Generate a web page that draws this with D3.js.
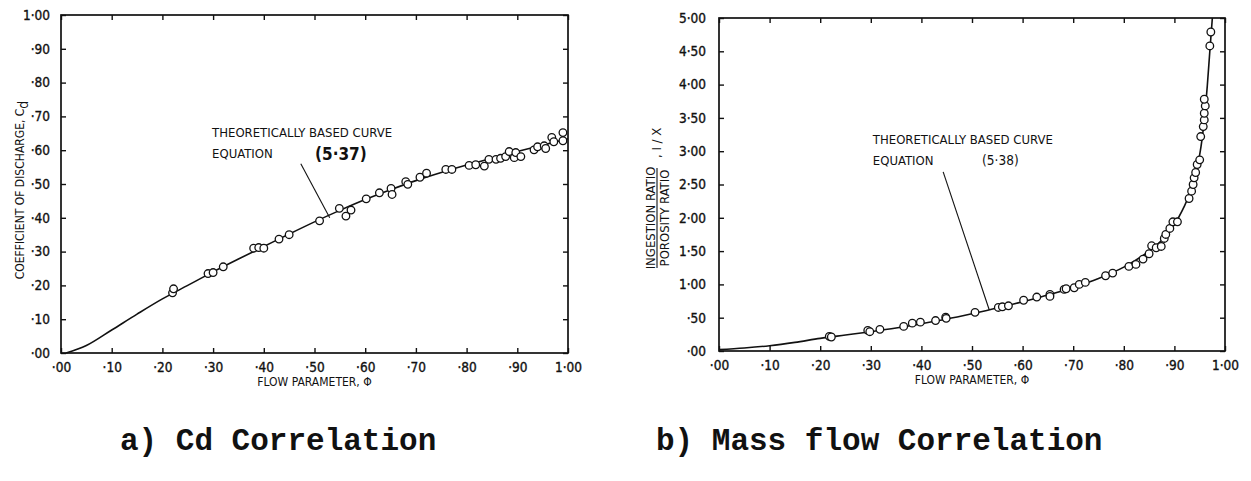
<!DOCTYPE html>
<html>
<head>
<meta charset="utf-8">
<script src="https://cdn.jsdelivr.net/npm/d3@7"></script>
<style>
  body { margin: 0; background: #fff; }
  svg text { font-family: "DejaVu Sans Condensed", "DejaVu Sans", sans-serif; fill: #111; }
  .caption { font-family: "Liberation Mono", "DejaVu Sans Mono", monospace; }
</style>
</head>
<body>
<script>
// ---- values ----
const phiTicks = [0, .1, .2, .3, .4, .5, .6, .7, .8, .9, 1];
const cdTicks = [0, .1, .2, .3, .4, .5, .6, .7, .8, .9, 1];
const ratioTicks = [0, .5, 1, 1.5, 2, 2.5, 3, 3.5, 4, 4.5, 5];

// a) Cd correlation : theoretical curve (5.37)
const cdCurve = [
  [0.01, 0], [0.05, 0.022], [0.1, 0.068], [0.15, 0.115], [0.2, 0.16], [0.25, 0.2],
  [0.3, 0.24], [0.35, 0.278], [0.4, 0.315], [0.45, 0.352], [0.5, 0.388], [0.55, 0.422],
  [0.6, 0.454], [0.65, 0.483], [0.7, 0.51], [0.75, 0.534], [0.8, 0.556], [0.85, 0.576],
  [0.9, 0.596], [0.95, 0.615], [1.0, 0.634]
];
// a) measured points
const cdPoints = [
  [0.22, 0.178], [0.222, 0.19], [0.29, 0.235], [0.30, 0.238], [0.32, 0.255],
  [0.38, 0.31], [0.39, 0.312], [0.40, 0.31], [0.43, 0.337], [0.45, 0.35],
  [0.51, 0.391], [0.549, 0.428], [0.562, 0.405], [0.572, 0.423], [0.602, 0.456],
  [0.628, 0.474], [0.651, 0.487], [0.653, 0.469], [0.68, 0.507], [0.684, 0.499],
  [0.708, 0.52], [0.721, 0.532], [0.759, 0.543], [0.771, 0.543], [0.805, 0.555],
  [0.818, 0.557], [0.835, 0.553], [0.844, 0.573], [0.858, 0.573], [0.867, 0.576],
  [0.877, 0.581], [0.884, 0.596], [0.894, 0.578], [0.897, 0.593], [0.907, 0.581],
  [0.933, 0.601], [0.94, 0.61], [0.953, 0.613], [0.956, 0.605], [0.968, 0.638],
  [0.972, 0.625], [0.99, 0.652], [0.99, 0.628]
];

// b) Mass flow correlation : theoretical curve (5.38)
const ratioCurve = [
  [0, 0.02], [0.05, 0.045], [0.1, 0.08], [0.15, 0.13], [0.2, 0.19], [0.25, 0.24],
  [0.3, 0.29], [0.35, 0.345], [0.4, 0.41], [0.45, 0.48], [0.5, 0.56], [0.55, 0.645],
  [0.6, 0.74], [0.65, 0.84], [0.7, 0.955], [0.75, 1.09], [0.8, 1.26], [0.85, 1.5],
  [0.88, 1.7], [0.9, 1.9], [0.92, 2.18], [0.93, 2.36], [0.94, 2.6], [0.95, 2.95],
  [0.955, 3.2], [0.96, 3.55], [0.965, 3.98], [0.97, 4.5], [0.975, 5.0]
];
// b) measured points
const ratioPoints = [
  [0.218, 0.22], [0.222, 0.21], [0.294, 0.31], [0.298, 0.29], [0.318, 0.325],
  [0.365, 0.369], [0.382, 0.418], [0.398, 0.433], [0.428, 0.457], [0.448, 0.507],
  [0.449, 0.49], [0.506, 0.58], [0.552, 0.654], [0.56, 0.664], [0.572, 0.679],
  [0.602, 0.762], [0.628, 0.81], [0.654, 0.85], [0.654, 0.82], [0.682, 0.925],
  [0.686, 0.935], [0.702, 0.95], [0.712, 1.0], [0.724, 1.03], [0.764, 1.13],
  [0.778, 1.17], [0.81, 1.27], [0.824, 1.3], [0.838, 1.38], [0.85, 1.46],
  [0.855, 1.58], [0.864, 1.55], [0.874, 1.57], [0.88, 1.69], [0.883, 1.75],
  [0.891, 1.84], [0.897, 1.94], [0.906, 1.94], [0.929, 2.29], [0.934, 2.4],
  [0.937, 2.5], [0.939, 2.6], [0.942, 2.68], [0.945, 2.8], [0.95, 2.87],
  [0.952, 3.22], [0.957, 3.37], [0.959, 3.47], [0.959, 3.57], [0.961, 3.68],
  [0.959, 3.78], [0.97, 4.58], [0.972, 4.79]
];

const W = 1251, H = 481;
const svg = d3.select("body").append("svg").attr("width", W).attr("height", H);

// old-style decimal labels: ·50, 1·00
const fmt = d => d3.format(".2f")(d).replace(/^0/, "").replace(".", "\u00b7");

function drawPanel(p) {
  const x = d3.scaleLinear().domain([0, 1]).range([p.left, p.right]);
  const y = d3.scaleLinear().domain(p.yDomain).range([p.bottom, p.top]);
  const g = svg.append("g");

  // inward ticks on all four sides, labels on bottom and left only
  g.append("g").attr("transform", `translate(0,${p.bottom})`)
    .call(d3.axisBottom(x).tickValues(phiTicks).tickFormat(fmt).tickSizeInner(-5).tickSizeOuter(0).tickPadding(9));
  g.append("g").attr("transform", `translate(0,${p.top})`)
    .call(d3.axisTop(x).tickValues(phiTicks).tickFormat("").tickSizeInner(-5).tickSizeOuter(0));
  g.append("g").attr("transform", `translate(${p.left},0)`)
    .call(d3.axisLeft(y).tickValues(p.yTicks).tickFormat(fmt).tickSizeInner(-5).tickSizeOuter(0).tickPadding(p.yPad));
  g.append("g").attr("transform", `translate(${p.right},0)`)
    .call(d3.axisRight(y).tickValues(p.yTicks).tickFormat("").tickSizeInner(-5).tickSizeOuter(0));
  g.selectAll(".domain").remove();
  g.selectAll(".tick line").attr("stroke", "#111").attr("stroke-width", 1.4);
  g.selectAll(".tick text").attr("font-size", 13.5).attr("fill", "#111")
    .attr("stroke", "#111").attr("stroke-width", 0.35);

  g.append("rect")
    .attr("x", p.left).attr("y", p.top)
    .attr("width", p.right - p.left).attr("height", p.bottom - p.top)
    .attr("fill", "none").attr("stroke", "#111").attr("stroke-width", 1.7);

  // theoretical curve
  const line = d3.line().x(d => x(d[0])).y(d => y(d[1])).curve(d3.curveCatmullRom);
  g.append("path").datum(p.curve)
    .attr("d", line).attr("fill", "none").attr("stroke", "#111").attr("stroke-width", 1.6);

  // measured points
  g.selectAll("circle.pt").data(p.points).join("circle")
    .attr("class", "pt")
    .attr("cx", d => x(d[0])).attr("cy", d => y(d[1]))
    .attr("r", 3.8).attr("fill", "#fff").attr("stroke", "#111").attr("stroke-width", 1.3);

  // annotation
  const a = p.note;
  g.append("line")
    .attr("x1", x(a.from[0])).attr("y1", y(a.from[1]))
    .attr("x2", x(a.to[0])).attr("y2", y(a.to[1]))
    .attr("stroke", "#111").attr("stroke-width", 1.1);
  g.append("text").attr("x", x(a.text[0])).attr("y", y(a.text[1]))
    .attr("font-size", 13).text("THEORETICALLY BASED CURVE");
  g.append("text").attr("x", x(a.text[0])).attr("y", y(a.text[1]) + 21)
    .attr("font-size", 13).text("EQUATION");
  g.append("text").attr("x", x(a.eqX)).attr("y", y(a.text[1]) + a.eqDy)
    .attr("font-size", a.eqSize).attr("font-weight", a.eqWeight).text(a.eq);

  // x title
  g.append("text").attr("x", (p.left + p.right) / 2).attr("y", p.bottom + 33)
    .attr("text-anchor", "middle").attr("font-size", 12)
    .text("FLOW PARAMETER, \u03a6");

  return g;
}

const left = drawPanel({
  left: 61, right: 568, top: 15, bottom: 353, yPad: 11,
  yDomain: [0, 1], yTicks: cdTicks,
  curve: cdCurve, points: cdPoints,
  note: { text: [0.298, 0.639], from: [0.473, 0.56], to: [0.53, 0.40],
          eqX: 0.501, eqDy: 23, eq: "(5\u00b737)", eqSize: 17, eqWeight: "bold" }
});
left.append("text")
  .attr("transform", "translate(24,190) rotate(-90)")
  .attr("text-anchor", "middle").attr("font-size", 12)
  .text("COEFFICIENT OF DISCHARGE, C")
  .append("tspan").attr("dy", 4).attr("font-size", 14).text("d");

const right = drawPanel({
  left: 719, right: 1225, top: 18, bottom: 351, yPad: 13,
  yDomain: [0, 5], yTicks: ratioTicks,
  curve: ratioCurve, points: ratioPoints,
  note: { text: [0.304, 3.11], from: [0.443, 2.69], to: [0.534, 0.62],
          eqX: 0.52, eqDy: 21, eq: "(5\u00b738)", eqSize: 13.5, eqWeight: "normal" }
});
const yl = right.append("g").attr("transform", "translate(657,218) rotate(-90)");
yl.append("text").attr("x", 0).attr("y", -2).attr("text-anchor", "middle")
  .attr("font-size", 13).text("INGESTION RATIO");
yl.append("line").attr("x1", -50).attr("x2", 50).attr("y1", 0).attr("y2", 0)
  .attr("stroke", "#111").attr("stroke-width", 1.1);
yl.append("text").attr("x", 0).attr("y", 12).attr("text-anchor", "middle")
  .attr("font-size", 13).text("POROSITY RATIO");
yl.append("text").attr("x", 60).attr("y", 4).attr("font-size", 13).text(",  I / X");

// panel captions
svg.append("text").attr("class", "caption").attr("x", 120).attr("y", 450)
  .attr("font-size", 31).attr("font-weight", "bold").text("a) Cd Correlation");
svg.append("text").attr("class", "caption").attr("x", 656).attr("y", 450)
  .attr("font-size", 31).attr("font-weight", "bold").text("b) Mass flow Correlation");
</script>
</body>
</html>
